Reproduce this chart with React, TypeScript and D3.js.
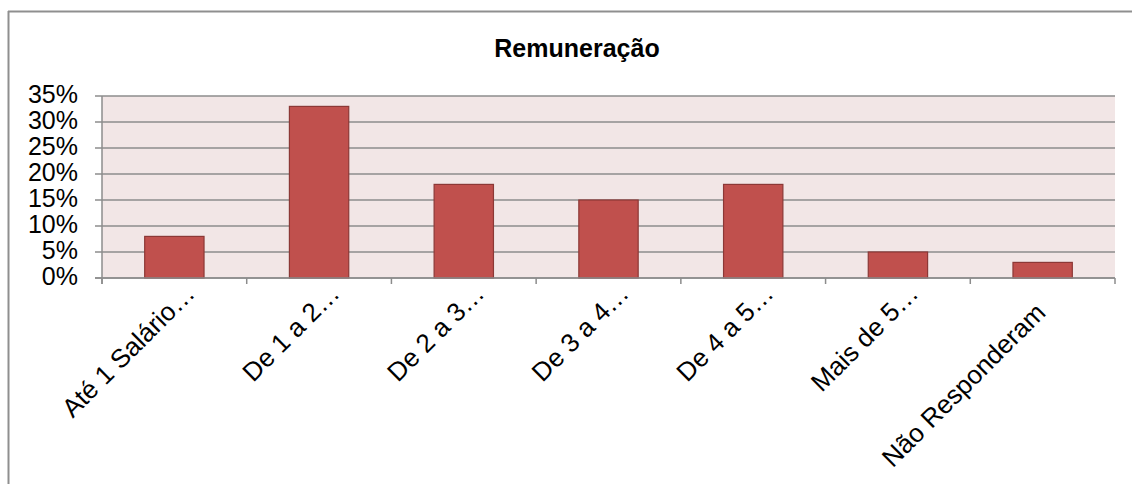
import React from 'react';
import * as d3 from 'd3';

// Data
const categories = [
  'Até 1 Salário…',
  'De 1 a 2…',
  'De 2 a 3…',
  'De 3 a 4…',
  'De 4 a 5…',
  'Mais de 5…',
  'Não Responderam',
];
const values = [0.08, 0.33, 0.18, 0.15, 0.18, 0.05, 0.03];
const yTicks = [0, 0.05, 0.1, 0.15, 0.2, 0.25, 0.3, 0.35];
const title = 'Remuneração';

const W = 1132;
const H = 484;
const margin = { top: 96, right: 17, bottom: 206, left: 102 };
const FONT = '"Liberation Sans", Arial, sans-serif';

const App = () => {
  const x = d3.scaleBand<string>()
    .domain(categories)
    .range([margin.left, W - margin.right])
    .padding(0);

  const y = d3.scaleLinear()
    .domain([0, 0.35])
    .range([H - margin.bottom, margin.top]);

  const barW = x.bandwidth() * 0.41;
  const y0 = y(0);
  const fmt = d3.format('.0%');
  const grid = '#8c8c8c';

  return (
    <div style={{ position: 'absolute', left: 0, top: 0 }}>
      <svg width={W} height={H} style={{ display: 'block', background: '#fff' }}>
        {/* chart frame: only top and left edges fall inside the picture */}
        <line x1={8} x2={W} y1={11.5} y2={11.5} stroke="#8f8f8f" strokeWidth={2} />
        <line x1={8.5} x2={8.5} y1={11} y2={H} stroke="#8f8f8f" strokeWidth={2} />

        <text x={577} y={57} textAnchor="middle"
          fontFamily={FONT} fontWeight="bold" fontSize={25}>{title}</text>

        {/* plot area */}
        <rect x={margin.left} y={margin.top} width={W - margin.right - margin.left}
          height={y0 - margin.top} fill="#f2e6e6" />

        {/* gridlines + y ticks */}
        {yTicks.map(t => (
          <g key={t}>
            <line x1={margin.left - 7} x2={W - margin.right} y1={y(t)} y2={y(t)}
              stroke={grid} strokeWidth={1.5} />
            <text x={78} y={y(t) + 7} textAnchor="end" fontFamily={FONT} fontSize={25}
              fill="#000">{fmt(t)}</text>
          </g>
        ))}

        {/* bars */}
        {categories.map((c, i) => (
          <rect key={c}
            x={(x(c) as number) + x.bandwidth() / 2 - barW / 2}
            y={y(values[i])}
            width={barW}
            height={y0 - y(values[i])}
            fill="#c0504d" stroke="#8c3836" strokeWidth={1.2} />
        ))}

        {/* axes */}
        <line x1={margin.left} x2={margin.left} y1={margin.top} y2={y0 + 6} stroke={grid} strokeWidth={1.5} />
        <line x1={margin.left - 7} x2={W - margin.right} y1={y0} y2={y0} stroke={grid} strokeWidth={1.5} />
        {categories.map(c => (
          <line key={c} x1={x(c)} x2={x(c)} y1={y0} y2={y0 + 6} stroke={grid} strokeWidth={1.5} />
        ))}
        <line x1={W - margin.right} x2={W - margin.right} y1={y0} y2={y0 + 6} stroke={grid} strokeWidth={1.5} />

        {/* rotated category labels */}
        {categories.map(c => {
          const cx = (x(c) as number) + x.bandwidth() / 2;
          const truncated = c.endsWith('…');
          return (
            <text key={c}
              transform={`translate(${cx + 22},${y0 + 17}) rotate(-45)`}
              dx={truncated ? 0 : -26} dy={truncated ? 0 : 1}
              textAnchor="end" fontFamily={FONT} fontSize={26} fill="#000">{c}</text>
          );
        })}
      </svg>
    </div>
  );
};

export default App;
